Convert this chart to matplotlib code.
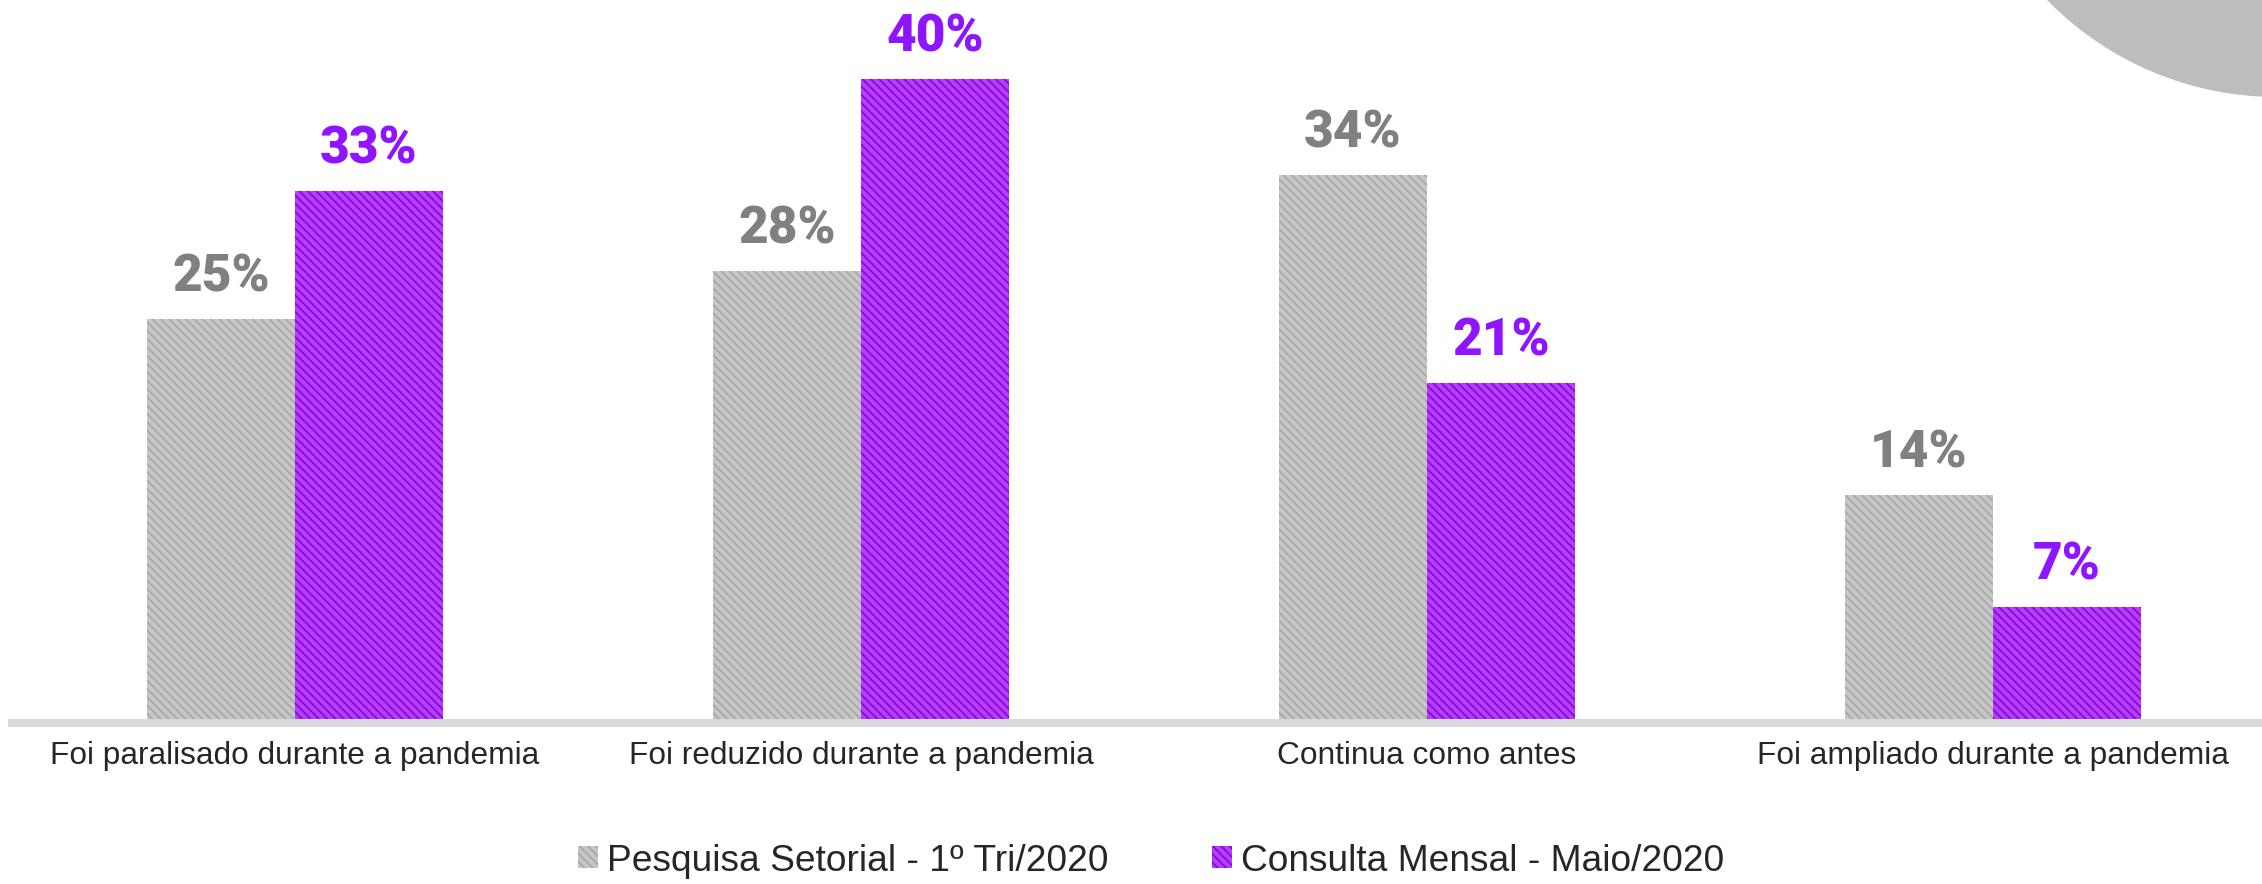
import matplotlib
matplotlib.use("Agg")
import matplotlib.pyplot as plt
import numpy as np
from matplotlib.patches import Circle

# dados
categorias = ['Foi paralisado durante a pandemia', 'Foi reduzido durante a pandemia',
              'Continua como antes', 'Foi ampliado durante a pandemia']
pesquisa_setorial = [25, 28, 34, 14]
consulta_mensal = [33, 40, 21, 7]
serie_nomes = ['Pesquisa Setorial - 1º Tri/2020', 'Consulta Mensal - Maio/2020']

plt.rcParams['font.family'] = ['Liberation Sans', 'DejaVu Sans']
plt.rcParams['hatch.linewidth'] = 1.2

W, H = 2262, 884
fig = plt.figure(figsize=(W / 100, H / 100), dpi=100)

# fundo com o círculo cinza no canto
bg = fig.add_axes([0, 0, 1, 1], zorder=0)
bg.set_xlim(0, W)
bg.set_ylim(H, 0)
bg.axis('off')
bg.add_patch(Circle((2277, -224), 321, color='#bdbdbd', lw=0))

# eixo principal: 16 px por ponto percentual, linha base em y=719 px
px_por_un = 16
base_px = 723
ax = fig.add_axes([12 / W, (H - base_px) / H, (W - 12) / W, base_px / H], zorder=1)
ax.patch.set_alpha(0)
ax.set_ylim(-4 / px_por_un, (base_px - 4) / px_por_un)
ax.set_xlim(-0.5, (W - 295) / 566)

x = np.arange(len(categorias))
largura = 148 / 566

b1 = ax.bar(x - largura / 2, pesquisa_setorial, largura, color='#c6c6c6', edgecolor='#a6a6a6',
            hatch='\\\\\\\\', linewidth=0, label=serie_nomes[0])
b2 = ax.bar(x + largura / 2, consulta_mensal, largura, color='#b440f6', edgecolor='#8a00e6',
            hatch='\\\\\\\\', linewidth=0, label=serie_nomes[1])

for barras, cor in [(b1, '#808080'), (b2, '#8f14ff')]:
    for b in barras:
        ax.annotate(f'{b.get_height():.0f}%', (b.get_x() + b.get_width() / 2, b.get_height()),
                    xytext=(0, 19.5), textcoords='offset points', ha='center', va='baseline',
                    fontsize=37, fontweight='black', color=cor,
                    family=['Roboto', 'DejaVu Sans'])

ax.set_xticks(x)
ax.set_xticklabels(categorias, fontsize=22.8, color='#262626')
ax.tick_params(axis='x', length=0, pad=13)
ax.set_yticks([])
for s in ['top', 'right', 'left']:
    ax.spines[s].set_visible(False)
ax.spines['bottom'].set_color('#d9d9d9')
ax.spines['bottom'].set_linewidth(5.76)

fig.legend(handles=[b1, b2], loc='center', bbox_to_anchor=(0.509, 0.026), ncol=2,
           frameon=False, fontsize=26.7, handlelength=0.54, handleheight=0.54,
           handletextpad=0.24, columnspacing=2.8, borderpad=0, labelcolor='#262626')

fig.savefig('out.png', dpi=100)
